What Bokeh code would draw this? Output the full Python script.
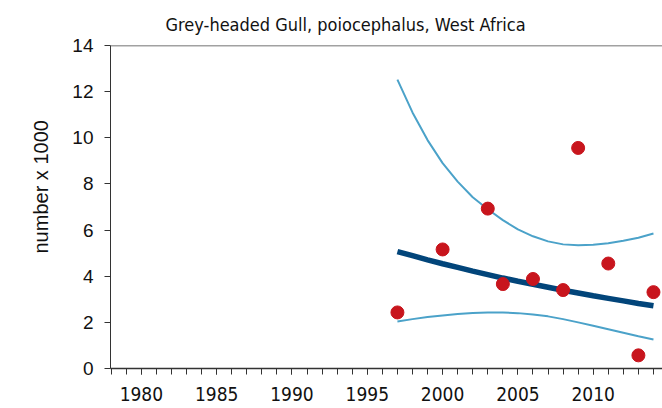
from bokeh.plotting import figure
from bokeh.models import Range1d, SingleIntervalTicker, Span, Title
from bokeh.embed import file_html
from bokeh.resources import INLINE

# Observed counts (number x 1000)
obs_years = [1997, 2000, 2003, 2004, 2006, 2008, 2009, 2011, 2013, 2014]
obs_values = [2.43, 5.16, 6.93, 3.66, 3.88, 3.40, 9.56, 4.55, 0.57, 3.31]

# Trend and confidence limits, read per year
fit_years = list(range(1997, 2015))
trend = [5.07, 4.89, 4.71, 4.54, 4.38, 4.22, 4.07, 3.92, 3.78, 3.65,
         3.52, 3.39, 3.27, 3.15, 3.04, 2.93, 2.82, 2.72]
upper = [12.52, 11.10, 9.90, 8.90, 8.10, 7.42, 6.90, 6.43, 6.03, 5.73,
         5.51, 5.38, 5.34, 5.36, 5.43, 5.54, 5.67, 5.85]
lower = [2.04, 2.14, 2.23, 2.30, 2.36, 2.41, 2.43, 2.43, 2.40, 2.34,
         2.26, 2.14, 2.00, 1.85, 1.70, 1.55, 1.40, 1.26]

title_text = "Grey-headed Gull, poiocephalus, West Africa"
y_label = "number x 1000"

p = figure(width=662, height=408, output_backend="svg", toolbar_location=None,
           x_range=Range1d(1977.95, 2014.6), y_range=Range1d(0, 14),
           min_border_left=110, min_border_right=0, min_border_top=44,
           min_border_bottom=40)
p.title = Title(text=title_text, align="left", offset=55, standoff=22,
                text_font="DejaVu Sans Condensed",
                text_font_size="18px", text_font_style="normal", text_color="#111111")
p.outline_line_color = None
p.xgrid.grid_line_color = None
p.ygrid.grid_line_color = None
p.background_fill_color = "white"
p.border_fill_color = "white"

p.add_layout(Span(location=14, dimension="width", line_color="#444444", line_width=1.5))

p.line(fit_years, upper, line_color="#4BA2C9", line_width=2)
p.line(fit_years, lower, line_color="#4BA2C9", line_width=2)
p.line(fit_years, trend, line_color="#02457A", line_width=5.5)
p.scatter(obs_years, obs_values, size=13, fill_color="#C8151D", line_color="#C8151D")

xa = p.xaxis[0]
xa.ticker = SingleIntervalTicker(interval=5, num_minor_ticks=5)
xa.major_tick_out = 6
xa.major_tick_in = 0
xa.minor_tick_out = 6
xa.minor_tick_in = 0
xa.axis_line_color = "#333333"
xa.major_tick_line_color = "#333333"
xa.minor_tick_line_color = "#333333"
xa.axis_line_width = 1.5
xa.major_label_text_font = "DejaVu Sans Condensed"
xa.major_label_text_font_size = "19px"
xa.major_label_text_color = "#111111"
xa.major_label_standoff = 12

ya = p.yaxis[0]
ya.ticker = SingleIntervalTicker(interval=2, num_minor_ticks=0)
ya.major_tick_out = 6
ya.major_tick_in = 0
ya.minor_tick_line_color = None
ya.axis_line_color = "#333333"
ya.major_tick_line_color = "#333333"
ya.major_label_text_font = "Liberation Sans"
ya.major_label_text_font_size = "19px"
ya.major_label_text_color = "#111111"
ya.major_label_standoff = 11

# y-axis title as a side title, placed like the reference
p.add_layout(Title(text=y_label, align="left", offset=115, standoff=35,
                   text_font="Liberation Sans", text_font_size="20px",
                   text_font_style="normal", text_color="#111111"), "left")

open("out.html", "w").write(file_html(p, INLINE))
